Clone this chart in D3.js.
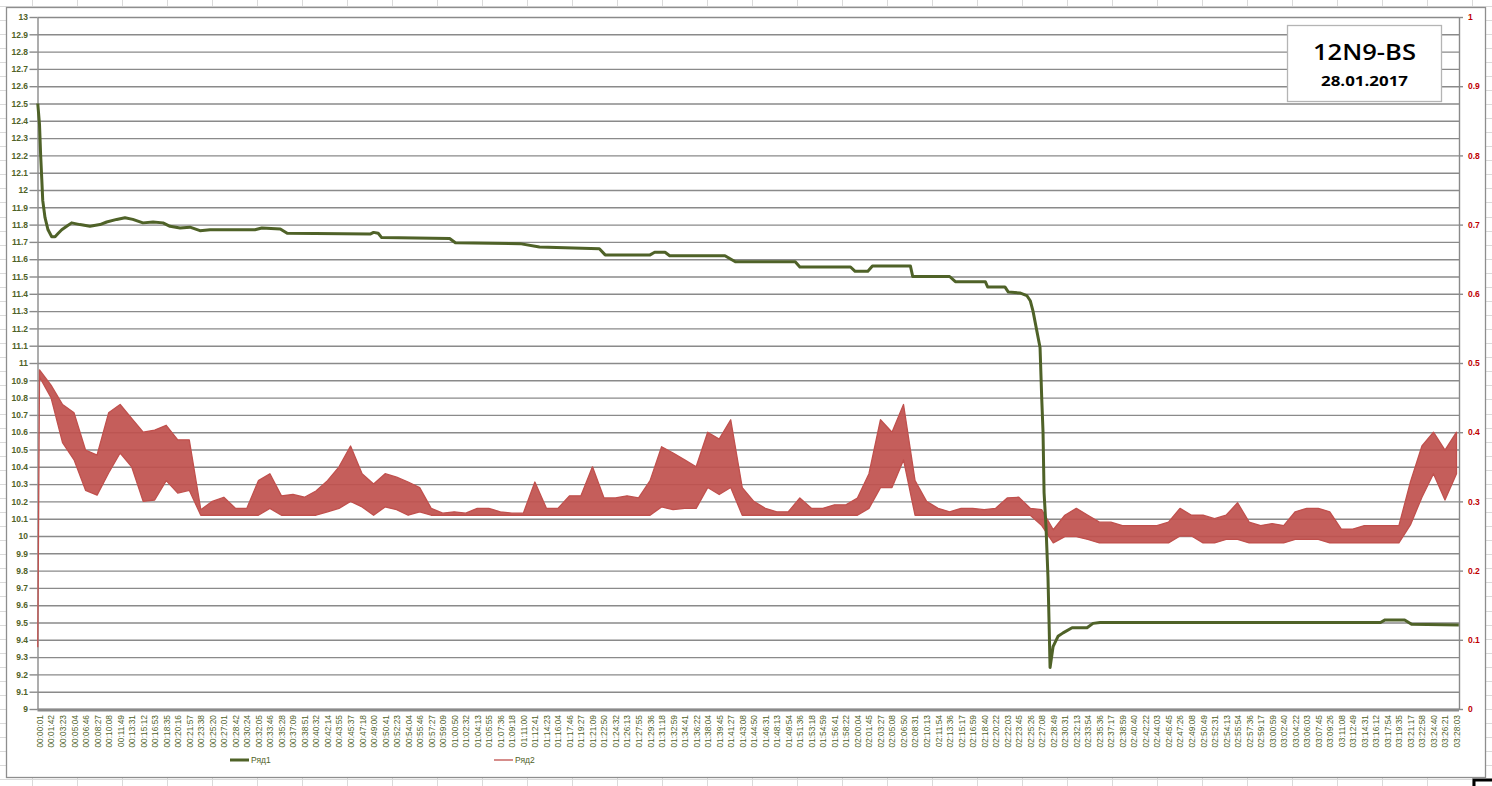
<!DOCTYPE html>
<html>
<head>
<meta charset="utf-8">
<script src="https://cdn.jsdelivr.net/npm/d3@7"></script>
<style>
  html, body { margin: 0; padding: 0; background: #fff; }
  svg { display: block; }
</style>
</head>
<body>
<div id="chart"></div>
<script>
// x positions are in "label units": 0 = first time label, 123 = last one
const timeLabels = [
  "00:00:01","00:01:42","00:03:23","00:05:04","00:06:46","00:08:27","00:10:08","00:11:49","00:13:31","00:15:12",
  "00:16:53","00:18:35","00:20:16","00:21:57","00:23:38","00:25:20","00:27:01","00:28:42","00:30:24","00:32:05",
  "00:33:46","00:35:28","00:37:09","00:38:51","00:40:32","00:42:14","00:43:55","00:45:37","00:47:18","00:49:00",
  "00:50:41","00:52:23","00:54:04","00:55:46","00:57:27","00:59:09","01:00:50","01:02:32","01:04:13","01:05:55",
  "01:07:36","01:09:18","01:11:00","01:12:41","01:14:23","01:16:04","01:17:46","01:19:27","01:21:09","01:22:50",
  "01:24:32","01:26:13","01:27:55","01:29:36","01:31:18","01:32:59","01:34:41","01:36:22","01:38:04","01:39:45",
  "01:41:27","01:43:08","01:44:50","01:46:31","01:48:13","01:49:54","01:51:36","01:53:18","01:54:59","01:56:41",
  "01:58:22","02:00:04","02:01:45","02:03:27","02:05:08","02:06:50","02:08:31","02:10:13","02:11:54","02:13:36",
  "02:15:17","02:16:59","02:18:40","02:20:22","02:22:03","02:23:45","02:25:26","02:27:08","02:28:49","02:30:31",
  "02:32:13","02:33:54","02:35:36","02:37:17","02:38:59","02:40:40","02:42:22","02:44:03","02:45:45","02:47:26",
  "02:49:08","02:50:49","02:52:31","02:54:13","02:55:54","02:57:36","02:59:17","03:00:59","03:02:40","03:04:22",
  "03:06:03","03:07:45","03:09:26","03:11:08","03:12:49","03:14:31","03:16:12","03:17:54","03:19:35","03:21:17",
  "03:22:58","03:24:40","03:26:21","03:28:03"
];

// Ряд1 (left axis) - position / value pairs
const greenT = [-0.15, 0, 0.1, 0.2, 0.28, 0.48, 0.74, 1.06, 1.35, 1.63, 1.93, 2.36, 2.79, 3.51, 4.38, 5.25, 5.83, 6.7,
  7.42, 8.1, 8.98, 9.86, 10.72, 11.33, 12.2, 13.06, 13.93, 14.8, 18.7, 19.3, 20.9, 21.5, 28.7, 29.0, 29.4, 29.7,
  35.6, 36.1, 41.7, 43.4, 48.6, 49.1, 53.0, 53.4, 54.3, 54.7, 59.5, 60.4, 65.6, 66.0, 70.4, 70.8, 71.9, 72.3,
  75.6, 75.8, 79.0, 79.5, 82.1, 82.3, 83.8, 84.1, 85.1, 85.7, 86.0, 86.24, 86.85, 87.0, 87.11, 87.2, 87.37,
  87.54, 87.63, 87.72, 87.98, 88.41, 88.85, 89.63, 90.93, 91.45, 92.06, 116.4, 116.8, 118.5, 119.1, 123.2];
const greenV = [12.5, 12.38, 12.2, 12.06, 11.94, 11.84, 11.77, 11.73, 11.73, 11.75, 11.77, 11.79, 11.81, 11.80, 11.79,
  11.80, 11.815, 11.83, 11.84, 11.83, 11.81, 11.815, 11.81, 11.79, 11.78, 11.785, 11.765, 11.77, 11.77, 11.78,
  11.775, 11.75, 11.745, 11.755, 11.75, 11.725, 11.72, 11.695, 11.69, 11.67, 11.66, 11.625, 11.625, 11.64, 11.64,
  11.62, 11.62, 11.585, 11.585, 11.555, 11.555, 11.53, 11.53, 11.56, 11.56, 11.50, 11.50, 11.47, 11.47, 11.44,
  11.44, 11.41, 11.405, 11.39, 11.36, 11.30, 11.09, 10.79, 10.6, 10.25, 10.05, 9.76, 9.51, 9.24, 9.36, 9.42,
  9.44, 9.47, 9.47, 9.495, 9.5, 9.5, 9.515, 9.515, 9.49, 9.485];

// Ряд2 (right axis) - first sample, then one low / high reading per time label
const redStartT = -0.15;
const redStartV = 0.09;
const redHi = [0.49, 0.468, 0.44, 0.428, 0.374, 0.367, 0.428, 0.44, 0.42, 0.40, 0.403, 0.41, 0.389, 0.389,
  0.288, 0.30, 0.306, 0.29, 0.29, 0.33, 0.34, 0.308, 0.31, 0.306, 0.315, 0.33, 0.35, 0.38, 0.34, 0.325,
  0.34, 0.335, 0.328, 0.32, 0.29, 0.283, 0.285, 0.283, 0.29, 0.29, 0.285, 0.283, 0.283, 0.328, 0.29, 0.29,
  0.308, 0.308, 0.35, 0.305, 0.305, 0.308, 0.305, 0.33, 0.379, 0.37, 0.36, 0.35, 0.40, 0.39, 0.418, 0.32,
  0.30, 0.29, 0.285, 0.285, 0.305, 0.29, 0.29, 0.295, 0.295, 0.305, 0.34, 0.418, 0.40, 0.44, 0.33, 0.30,
  0.29, 0.285, 0.29, 0.29, 0.288, 0.29, 0.305, 0.306, 0.29, 0.288, 0.259, 0.28, 0.29, 0.28, 0.27, 0.27,
  0.265, 0.265, 0.265, 0.265, 0.27, 0.29, 0.28, 0.28, 0.275, 0.28, 0.298, 0.27, 0.265, 0.268, 0.265, 0.285,
  0.29, 0.29, 0.285, 0.26, 0.26, 0.265, 0.265, 0.265, 0.265, 0.328, 0.38, 0.40, 0.374, 0.40];
const redLo = [0.48, 0.45, 0.385, 0.36, 0.316, 0.309, 0.341, 0.37, 0.35, 0.30, 0.302, 0.33, 0.312, 0.316,
  0.28, 0.28, 0.28, 0.28, 0.28, 0.28, 0.29, 0.28, 0.28, 0.28, 0.28, 0.285, 0.29, 0.30, 0.292, 0.28,
  0.292, 0.288, 0.28, 0.285, 0.28, 0.28, 0.28, 0.28, 0.28, 0.28, 0.28, 0.28, 0.28, 0.28, 0.28, 0.28,
  0.28, 0.28, 0.28, 0.28, 0.28, 0.28, 0.28, 0.28, 0.292, 0.288, 0.29, 0.29, 0.32, 0.31, 0.32, 0.28,
  0.28, 0.28, 0.28, 0.28, 0.28, 0.28, 0.28, 0.28, 0.28, 0.28, 0.29, 0.32, 0.32, 0.36, 0.28, 0.28,
  0.28, 0.28, 0.28, 0.28, 0.28, 0.28, 0.28, 0.28, 0.28, 0.265, 0.24, 0.249, 0.249, 0.245, 0.24, 0.24,
  0.24, 0.24, 0.24, 0.24, 0.24, 0.25, 0.25, 0.24, 0.24, 0.245, 0.245, 0.24, 0.24, 0.24, 0.24, 0.245,
  0.245, 0.245, 0.24, 0.24, 0.24, 0.24, 0.24, 0.24, 0.24, 0.266, 0.306, 0.34, 0.302, 0.34];

const leftTicks = d3.range(0, 41).map(i => 9 + i / 10);
const rightTicks = d3.range(0, 11).map(i => i / 10);

const seriesNames = ["Ряд1", "Ряд2"];
const title = "12N9-BS";
const subtitle = "28.01.2017";

const W = 1492, H = 786;
const green = "#4f6228", red = "#c0504d", gridCol = "#8a8a8a";
const plot = {left: 37.5, right: 1459, top: 17, bottom: 709};
const font = "'Liberation Sans', Arial, sans-serif";

const svg = d3.select("#chart").append("svg")
  .attr("width", W).attr("height", H)
  .style("font-family", font);

// spreadsheet cells behind the chart
const sheet = svg.append("g").attr("stroke", "#dadada").attr("stroke-width", 1);
sheet.selectAll("line.v").data(d3.range(32.5, W, 45)).join("line")
  .attr("x1", d => d).attr("x2", d => d).attr("y1", 0).attr("y2", H);
sheet.selectAll("line.h").data(d3.range(5.5, H, 14.07)).join("line")
  .attr("y1", d => Math.round(d) + 0.5).attr("y2", d => Math.round(d) + 0.5).attr("x1", 0).attr("x2", W);

// selected cell marker at bottom right
svg.append("path").attr("d", "M1474,786 V780 H1492")
  .attr("fill", "none").attr("stroke", "#000").attr("stroke-width", 3);

// chart area
svg.append("rect").attr("x", 6.5).attr("y", 7.5).attr("width", 1479).attr("height", 770)
  .attr("fill", "#fff").attr("stroke", "#8e8e8e").attr("stroke-width", 1.3);

const x = d3.scaleLinear().domain([0, 123]).range([39.5, 1456.5]);
const yL = d3.scaleLinear().domain([9, 13]).range([plot.bottom, plot.top]);
const yR = d3.scaleLinear().domain([0, 1]).range([plot.bottom, plot.top]);

// grid lines
svg.append("g")
  .attr("transform", `translate(${plot.left},0)`)
  .call(d3.axisLeft(yL).tickValues(leftTicks).tickSize(-(plot.right - plot.left)).tickFormat(""))
  .call(g => g.select(".domain").remove())
  .call(g => g.selectAll("line").attr("stroke", gridCol).attr("stroke-width", 1.4));

const fmt = d => String(+d.toFixed(1));

// left axis
svg.append("g")
  .attr("transform", `translate(${plot.left},0)`)
  .call(d3.axisLeft(yL).tickValues(leftTicks).tickSize(8).tickPadding(1.5).tickFormat(fmt).tickSizeOuter(0))
  .call(g => g.select(".domain").attr("stroke", gridCol).attr("stroke-width", 1.4))
  .call(g => g.selectAll(".tick line").attr("stroke", gridCol).attr("stroke-width", 1.4))
  .call(g => g.selectAll("text").attr("fill", green).attr("font-size", 8.5).attr("font-weight", "bold")
    .attr("font-family", font));

// right axis
svg.append("g")
  .attr("transform", `translate(${plot.right},0)`)
  .call(d3.axisRight(yR).tickValues(rightTicks).tickSize(4).tickPadding(5).tickFormat(fmt).tickSizeOuter(0))
  .call(g => g.select(".domain").attr("stroke", gridCol).attr("stroke-width", 1.4))
  .call(g => g.selectAll(".tick line").attr("stroke", gridCol).attr("stroke-width", 1.4))
  .call(g => g.selectAll("text").attr("fill", "#c00000").attr("font-size", 8.5).attr("font-weight", "bold")
    .attr("font-family", font));

// bottom axis with rotated time labels
svg.append("g")
  .attr("transform", `translate(0,${plot.bottom})`)
  .call(d3.axisBottom(x).tickValues(d3.range(timeLabels.length)).tickFormat(i => timeLabels[i]).tickSize(0))
  .call(g => g.select(".domain").remove())
  .call(g => g.selectAll("text")
    .attr("transform", "rotate(-90)")
    .attr("text-anchor", "end")
    .attr("x", -6).attr("y", 0).attr("dy", "0.35em")
    .attr("fill", green).attr("font-size", 8.4)
    .attr("font-family", font));

svg.append("line")
  .attr("x1", plot.left).attr("x2", plot.right)
  .attr("y1", plot.bottom + 1).attr("y2", plot.bottom + 1)
  .attr("stroke", gridCol).attr("stroke-width", 3);

// Ряд2 band
const redPts = [{t: redStartT, lo: redStartV, hi: redStartV}]
  .concat(redLo.map((lo, i) => ({t: i, lo: lo, hi: redHi[i]})));
const redArea = d3.area()
  .x(d => x(d.t))
  .y0(d => yR(d.lo))
  .y1(d => yR(d.hi));
svg.append("path")
  .datum(redPts)
  .attr("d", redArea)
  .attr("fill", red).attr("fill-opacity", 0.92)
  .attr("stroke", red).attr("stroke-width", 1.3).attr("stroke-linejoin", "round");

// Ряд1 line
const greenLine = d3.line()
  .x(d => x(d[0]))
  .y(d => yL(d[1]));
svg.append("path")
  .datum(greenT.map((t, i) => [t, greenV[i]]))
  .attr("d", greenLine)
  .attr("fill", "none").attr("stroke", green).attr("stroke-width", 3)
  .attr("stroke-linejoin", "round");

// legend
const legend = svg.append("g").attr("font-size", 8.5).attr("fill", green);
const legendItems = [
  {name: seriesNames[0], color: green, w: 3, x0: 230},
  {name: seriesNames[1], color: red, w: 1.3, x0: 494}
];
legendItems.forEach(d => {
  legend.append("line").attr("x1", d.x0).attr("x2", d.x0 + 19).attr("y1", 760).attr("y2", 760)
    .attr("stroke", d.color).attr("stroke-width", d.w);
  legend.append("text").attr("x", d.x0 + 21).attr("y", 763).text(d.name);
});

// title box
svg.append("rect").attr("x", 1287.5).attr("y", 25.5).attr("width", 154).attr("height", 76)
  .attr("fill", "#fff").attr("stroke", "#b4b4b4").attr("stroke-width", 1.3);
svg.append("text").attr("x", 1364.5).attr("y", 59.5).attr("text-anchor", "middle")
  .attr("font-size", 21).attr("font-family", "'Open Sans', sans-serif").attr("font-weight", 600)
  .attr("textLength", 103).attr("lengthAdjust", "spacingAndGlyphs")
  .attr("fill", "#000").text(title);
svg.append("text").attr("x", 1364.5).attr("y", 85.5).attr("text-anchor", "middle")
  .attr("font-size", 15).attr("font-family", "'Open Sans', sans-serif").attr("font-weight", "bold")
  .attr("textLength", 87).attr("lengthAdjust", "spacingAndGlyphs")
  .attr("fill", "#000").text(subtitle);
</script>
</body>
</html>
